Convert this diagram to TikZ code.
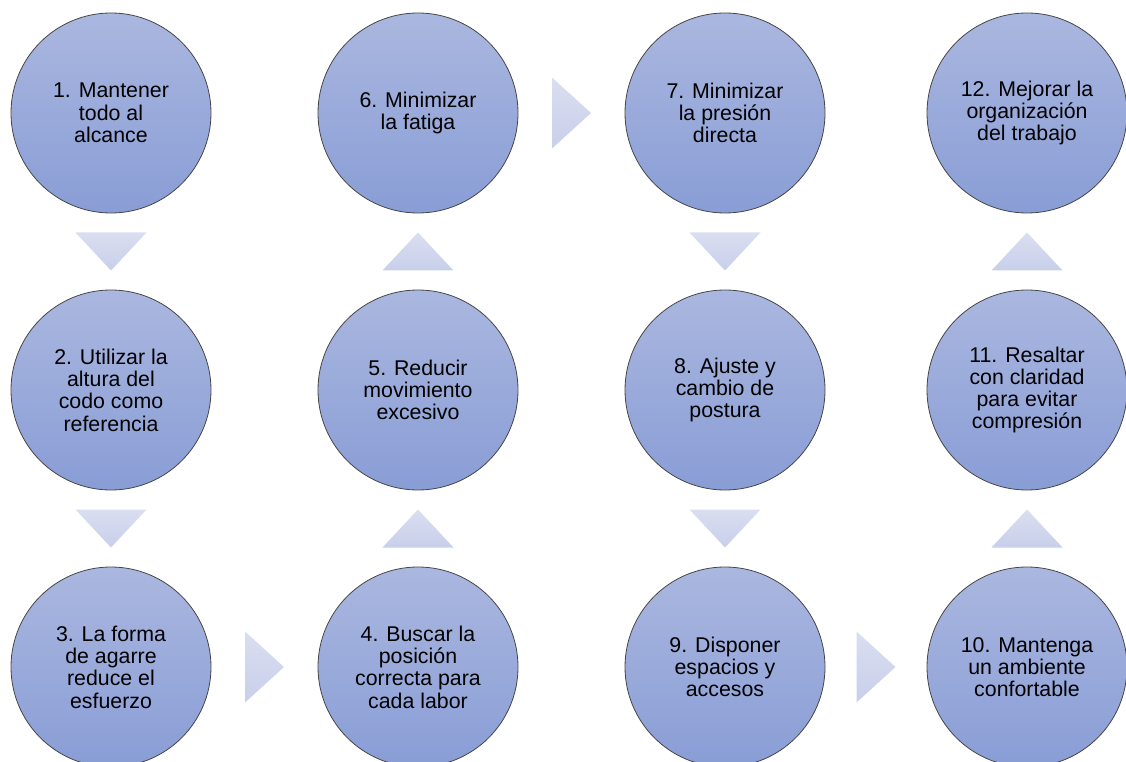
\documentclass[tikz,border=0pt]{standalone}
\usepackage{fontspec}
\setmainfont{Liberation Sans}
\usetikzlibrary{calc}
\definecolor{ctop}{RGB}{170,183,223}
\definecolor{cbot}{RGB}{137,157,214}
\definecolor{ttop}{RGB}{218,222,240}
\definecolor{tbot}{RGB}{200,207,234}
\definecolor{cline}{RGB}{70,70,70}
\tikzset{
  stepcircle/.style={circle, minimum size=150pt, inner sep=0pt, draw=cline, line width=0.6pt,
    top color=ctop, bottom color=cbot, align=center,
    font=\fontsize{16pt}{16.7pt}\selectfont, text=black},
  tri/.style={top color=ttop, bottom color=tbot, draw=none}
}
\begin{document}
\begin{tikzpicture}[x=0.75pt,y=-0.75pt]
\useasboundingbox (0,0) rectangle (1126,762);
% circles
\node[stepcircle] (c1) at (111,113) {1. Mantener\\todo al\\alcance};
\node[stepcircle] (c2) at (111,390) {2. Utilizar la\\altura del\\codo como\\referencia};
\node[stepcircle] (c3) at (111,667) {3. La forma\\de agarre\\reduce el\\esfuerzo};
\node[stepcircle] (c4) at (418,667) {4. Buscar la\\posición\\correcta para\\cada labor};
\node[stepcircle] (c5) at (418,390) {5. Reducir\\movimiento\\excesivo};
\node[stepcircle] (c6) at (418,113) {6. Minimizar\\la fatiga};
\node[stepcircle] (c7) at (725,113) {7. Minimizar\\la presión\\directa};
\node[stepcircle] (c8) at (725,390) {8. Ajuste y\\cambio de\\postura};
\node[stepcircle] (c9) at (725,667) {9. Disponer\\espacios y\\accesos};
\node[stepcircle] (c10) at (1027,667) {10. Mantenga\\un ambiente\\confortable};
\node[stepcircle] (c11) at (1027,390) {11. Resaltar\\con claridad\\para evitar\\compresión};
\node[stepcircle] (c12) at (1027,113) {12. Mejorar la\\organización\\del trabajo};
% connector positions
\coordinate (t12) at ($(c1.south)!0.5!(c2.north)$);
\coordinate (t23) at ($(c2.south)!0.5!(c3.north)$);
\coordinate (t34) at ($(c3.east)!0.5!(c4.west)$);
\coordinate (t45) at ($(c4.north)!0.5!(c5.south)$);
\coordinate (t56) at ($(c5.north)!0.5!(c6.south)$);
\coordinate (t67) at ($(c6.east)!0.5!(c7.west)$);
\coordinate (t78) at ($(c7.south)!0.5!(c8.north)$);
\coordinate (t89) at ($(c8.south)!0.5!(c9.north)$);
\coordinate (t910) at ($(c9.east)!0.5!(c10.west)$);
\coordinate (t1011) at ($(c10.north)!0.5!(c11.south)$);
\coordinate (t1112) at ($(c11.north)!0.5!(c12.south)$);
% down triangles
\foreach \p in {t12,t23,t78,t89}{
  \shade[tri, shift={(\p)}] (-35.5,-19) -- (35.5,-19) -- (0,19) -- cycle;
}
% up triangles
\foreach \p in {t45,t56,t1011,t1112}{
  \shade[tri, shift={(\p)}] (-35.5,19) -- (35.5,19) -- (0,-19) -- cycle;
}
% right triangles
\foreach \p in {t34,t67,t910}{
  \shade[tri, shift={(\p)}] (-19.5,-35.5) -- (19.5,0) -- (-19.5,35.5) -- cycle;
}
\end{tikzpicture}
\end{document}
